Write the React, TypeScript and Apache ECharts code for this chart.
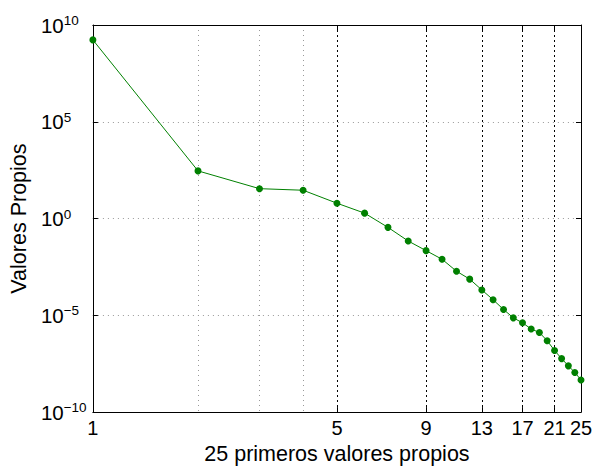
import React, { useEffect, useRef } from "react";
import * as echarts from "echarts";

const indices = [1, 2, 3, 4, 5, 6, 7, 8, 9, 10, 11, 12, 13, 14, 15, 16, 17, 18, 19, 20, 21, 22, 23, 24, 25];
const eigenValues = [
  1.7e9, 290, 35, 29, 6.2, 1.9, 0.35, 0.069, 0.022, 0.0079, 0.0019, 7.4e-4, 2.05e-4,
  6.4e-5, 2.0e-5, 7.4e-6, 4.1e-6, 1.97e-6, 1.29e-6, 4.9e-7, 1.52e-7, 5.8e-8, 2.45e-8, 1.12e-8, 4.6e-9,
];
const xTickValues = [1, 5, 9, 13, 17, 21, 25];
const xMinorGridValues = [2, 3, 4];
const yTickValues = [1e-10, 1e-5, 1, 1e5, 1e10];
const xTitle = "25 primeros valores propios";
const yTitle = "Valores Propios";

const FONT = "Liberation Sans, Arial, Helvetica, sans-serif";

export default function App() {
  const ref = useRef<HTMLDivElement>(null);
  useEffect(() => {
    if (!ref.current) return;
    const chart = echarts.init(ref.current, null, { renderer: "svg" });
    const data = indices.map((x, i) => [x, eigenValues[i]]);
    const axisLine = { show: true, lineStyle: { color: "#000", width: 1 } };
    const expLabel = (v: number) => {
      const e = Math.round(Math.log10(v));
      const s = e < 0 ? "\u2212" + -e : String(e);
      return "{b|10}{s|" + s + "}";
    };
    chart.setOption({
      animation: false,
      backgroundColor: "#fff",
      grid: { left: 91, top: 25, right: 20, bottom: 49, containLabel: false },
      xAxis: [
        {
          type: "log",
          logBase: 10,
          min: 1,
          max: 25,
          position: "bottom",
          axisLine,
          axisTick: { show: true, inside: true, length: 5, customValues: xTickValues, lineStyle: { color: "#000" } },
          axisLabel: {
            show: true,
            customValues: xTickValues,
            formatter: (v: number) => String(Math.round(v)),
            color: "#000",
            fontFamily: FONT,
            fontSize: 20,
            margin: 6,
            hideOverlap: false,
          },
          splitLine: { show: true, lineStyle: { color: "#000", width: 1, type: [2, 3] } },
          minorTick: { show: false },
          name: xTitle,
          nameLocation: "middle",
          nameGap: 29,
          nameTextStyle: { color: "#000", fontFamily: FONT, fontSize: 21.5 },
        },
        {
          type: "log",
          logBase: 10,
          min: 1,
          max: 25,
          position: "top",
          axisLine,
          axisTick: { show: true, inside: true, length: 5, customValues: xTickValues, lineStyle: { color: "#000" } },
          axisLabel: { show: false },
          splitLine: { show: false },
        },
        {
          type: "log",
          logBase: 10,
          min: 1,
          max: 25,
          position: "bottom",
          axisLine: { show: false },
          axisTick: { show: false, customValues: xMinorGridValues },
          axisLabel: { show: false, customValues: xMinorGridValues },
          splitLine: { show: true, lineStyle: { color: "#999", width: 1, type: [1, 4] } },
        },
      ],
      yAxis: [
        {
          type: "log",
          logBase: 10,
          min: 1e-10,
          max: 1e10,
          position: "left",
          axisLine,
          axisTick: { show: true, inside: true, length: 5, customValues: yTickValues, lineStyle: { color: "#000" } },
          axisLabel: {
            show: true,
            customValues: yTickValues,
            formatter: expLabel,
            align: "left",
            margin: 52,
            color: "#000",
            fontFamily: FONT,
            rich: {
              b: { fontSize: 20.5, lineHeight: 23, fontFamily: FONT, color: "#000" },
              s: { fontSize: 13.5, lineHeight: 13, verticalAlign: "top", fontFamily: FONT, color: "#000" },
            },
          },
          splitLine: { show: true, lineStyle: { color: "#999", width: 1, type: [1, 4] } },
          minorTick: { show: false },
          name: yTitle,
          nameLocation: "middle",
          nameGap: 52,
          nameTextStyle: { color: "#000", fontFamily: FONT, fontSize: 21.5 },
        },
        {
          type: "log",
          logBase: 10,
          min: 1e-10,
          max: 1e10,
          position: "right",
          axisLine,
          axisTick: { show: true, inside: true, length: 5, customValues: yTickValues, lineStyle: { color: "#000" } },
          axisLabel: { show: false },
          splitLine: { show: false },
        },
      ],
      series: [
        {
          type: "line",
          xAxisIndex: 0,
          yAxisIndex: 0,
          data,
          symbol: "circle",
          symbolSize: 7,
          lineStyle: { color: "#008000", width: 1 },
          itemStyle: { color: "#008000" },
          z: 5,
        },
      ],
    });
    return () => chart.dispose();
  }, []);
  return <div ref={ref} style={{ position: "fixed", left: 0, top: 0, width: 601, height: 470 }} />;
}
